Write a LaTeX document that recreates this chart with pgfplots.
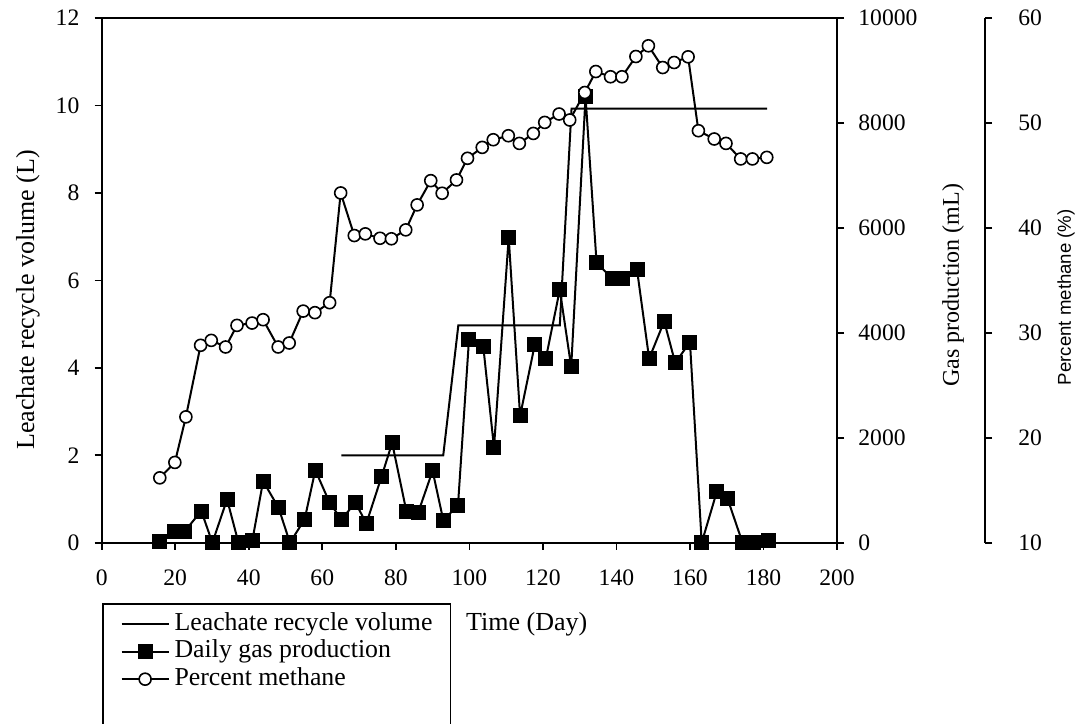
\documentclass[border=0pt]{standalone}
\usepackage{fontspec}
\setmainfont{Liberation Serif}
\newfontfamily\sansf{Liberation Sans}
\usepackage{pgfplots}
\pgfplotsset{compat=1.18}
\usepackage{pgfplotstable}

\pgfplotstableread{
day gas
15.8 20
19.9 223
22.6 223
27.1 603
30.1 0
34.1 826
37.2 0
41.0 51
43.9 1174
48.1 666
51.2 0
55.2 445
58.1 1383
62.0 761
65.2 445
69.0 761
72.0 369
76.1 1256
79.0 1903
82.9 590
86.1 579
90.0 1370
92.9 432
96.9 704
99.9 3871
103.8 3730
106.7 1815
110.7 5818
113.8 2417
117.8 3776
120.8 3509
124.6 4822
127.7 3349
131.6 8501
134.6 5336
138.9 5032
141.6 5032
145.6 5205
148.9 3509
153.0 4219
156.0 3425
160.0 3825
163.2 0
167.3 971
170.2 845
174.3 0
177.4 0
181.3 38
}\gasdata

\pgfplotstableread{
day ch4
15.8 16.18
19.9 17.65
22.9 21.99
26.9 28.81
29.8 29.28
33.7 28.65
36.8 30.71
40.9 30.93
43.9 31.25
48.0 28.65
51.0 29.03
54.8 32.07
58.0 31.92
62.0 32.87
65.0 43.33
68.7 39.27
71.7 39.43
75.7 39.01
78.8 38.96
82.7 39.81
85.8 42.19
89.5 44.50
92.6 43.30
96.5 44.57
99.5 46.63
103.5 47.67
106.5 48.40
110.6 48.78
113.6 48.05
117.4 49.00
120.5 50.05
124.4 50.85
127.3 50.28
131.4 52.90
134.4 54.90
138.4 54.40
141.5 54.40
145.3 56.33
148.7 57.35
152.6 55.28
155.7 55.76
159.5 56.30
162.3 49.26
166.6 48.47
169.8 48.05
173.8 46.57
177.0 46.57
180.9 46.72
}\methdata

\pgfplotstableread{
day vol
65.2 2
92.9 2
97.0 4.97
124.6 4.97
127.8 9.93
181.0 9.93
}\leachdata

\pgfplotsset{
  base/.style={
    scale only axis, width=367.65pt, height=262.35pt,
    at={(50.85pt,90.15pt)}, anchor=south west,
    xmin=0, xmax=200, clip=false,
    tick align=outside, major tick length=3.5pt,
    /pgf/number format/assume math mode=true,
    /pgf/number format/1000 sep={},
    scaled ticks=false,
    tick label style={font=\fontsize{11.8}{12}\selectfont, inner sep=0pt},
    axis line style={line width=0.9pt},
    every tick/.style={line width=0.8pt, black},
  },
  gasstyle/.style={black, line width=1pt, mark=square*, mark size=3.25pt, mark options={solid}},
  methstyle/.style={black, line width=1pt, mark=*, mark size=3pt, mark options={fill=white, draw=black, line width=0.8pt}},
}

\begin{document}
\begin{tikzpicture}
\useasboundingbox (0,0) rectangle (540pt,361.5pt);
% main axis: leachate
\begin{axis}[base,
  ymin=0, ymax=12,
  xtick={0,20,...,200}, ytick={0,2,...,12},
  tick pos=left,
  xticklabel style={anchor=north, yshift=-10pt},
  yticklabel style={anchor=east, xshift=-7.5pt},
  xlabel={Time (Day)}, ylabel={Leachate recycle volume (L)},
  label style={font=\fontsize{13}{15}\selectfont},
  xlabel style={at={(axis description cs:0.578,-0.1563)}, anchor=center},
  ylabel style={at={(axis description cs:-0.1002,0.4626)}, anchor=center},
  legend image code/.code={\draw[mark repeat=2, mark phase=2, #1] plot coordinates {(0pt,0pt) (11.75pt,0pt) (23.5pt,0pt)};},
  legend cell align=left,
  legend style={at={(axis description cs:0,-0.1144)}, anchor=north west,
    draw=black, line width=0.9pt, inner xsep=9pt, inner ysep=4.4pt,
    font=\fontsize{12.9}{14}\selectfont,
    nodes={inner sep=0pt, text height=9pt, text depth=2.75pt},
    row sep=2pt,
    /tikz/every odd column/.append style={column sep=2.5pt}},
]
\addplot[black, line width=1pt, no marks] table[x=day, y=vol]{\leachdata};
\addlegendentry{Leachate recycle volume}
\addlegendimage{gasstyle}
\addlegendentry{Daily gas production}
\addlegendimage{methstyle}
\addlegendentry{Percent methane}
\addlegendimage{empty legend}
\addlegendentry{\strut}
\addlegendimage{empty legend}
\addlegendentry{\strut}
\addlegendimage{empty legend}
\addlegendentry{\strut}
\end{axis}
% gas production axis
\begin{axis}[base,
  ymin=0, ymax=10000,
  axis y line*=right, axis x line=none,
  ytick={0,2000,...,10000},
  yticklabel style={anchor=west, xshift=7pt},
  ylabel={Gas production (mL)},
  ylabel style={at={(axis description cs:1.1578,0.4906)}, anchor=center, font=\fontsize{12}{14}\selectfont},
]
\addplot[gasstyle] table[x=day, y=gas]{\gasdata};
\end{axis}
% methane data
\begin{axis}[base, ymin=10, ymax=60, hide axis]
\addplot[methstyle] table[x=day, y=ch4]{\methdata};
\end{axis}
% methane scale
\begin{axis}[base, width=441.65pt, xmin=0, xmax=1,
  ymin=10, ymax=60,
  axis y line*=right, axis x line=none,
  axis line style={line width=0.7pt},
  ytick={10,20,...,60},
  yticklabel style={anchor=west, xshift=13pt},
  ylabel={Percent methane (\%)},
  ylabel style={at={(axis description cs:1.0917,0.468)}, anchor=center, font=\sansf\fontsize{9.3}{11}\selectfont},
]
\end{axis}
\end{tikzpicture}
\end{document}
